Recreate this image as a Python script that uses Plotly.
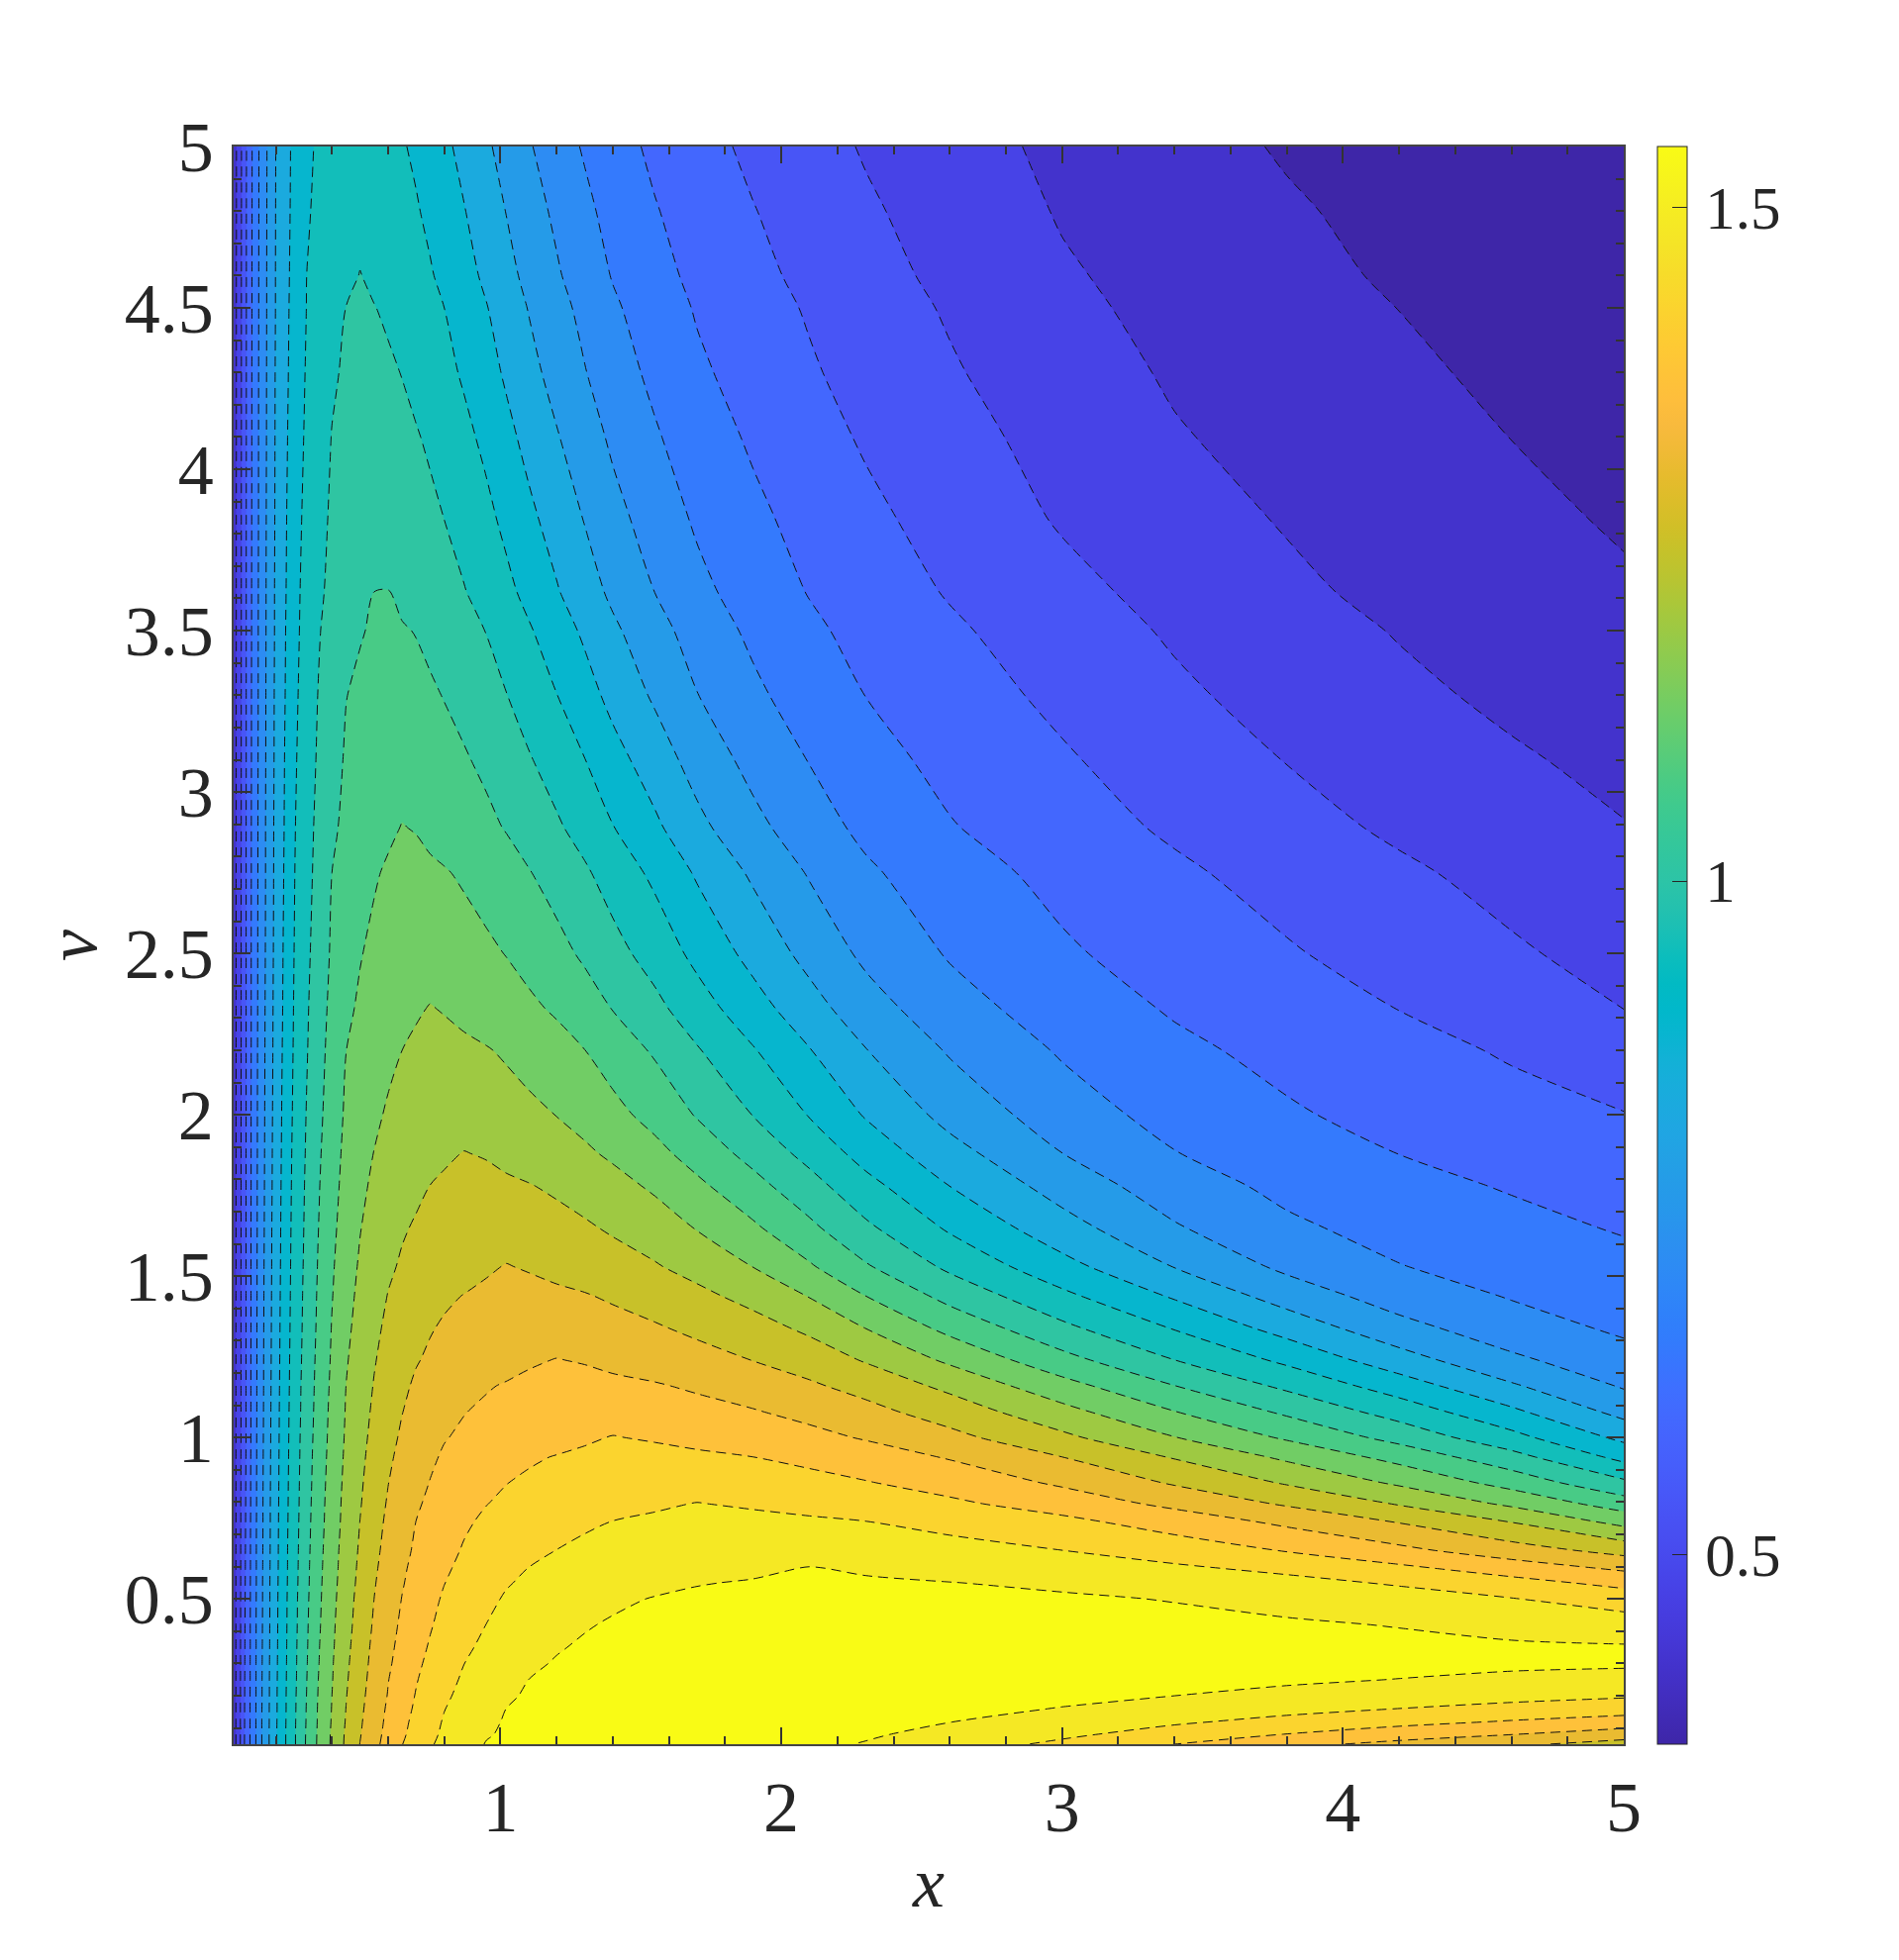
import numpy as np
import plotly.graph_objects as go

x_values = [.05, .06, .075, .09, .11, .13, .15, .18, .2, .23, .27, .31, .35, .4, .45, .5, .55, .6, .65, .7, .75, .8, .87, .95, 1.02, 1.1, 1.2, 1.3, 1.4, 1.55, 1.7, 1.9, 2.1, 2.3, 2.6, 3, 3.4, 3.8, 4.2, 4.6, 5]
v_values = [.05, .08, .12, .16, .2, .25, .3, .35, .42, .5, .55, .595, .65, .74, .795, .86, .94, 1.0, 1.08, 1.16, 1.24, 1.34, 1.44, 1.53, 1.65, 1.78, 1.88, 2.0, 2.2, 2.33, 2.5, 2.75, 2.89, 3.1, 3.3, 3.5, 3.62, 3.85, 4.1, 4.3, 4.5, 4.6, 4.8, 5]

# surface in thousandths, one row per v, estimated from the contour lines of the picture
z_milli = [
    [444, 479, 533, 591, 647, 701, 754, 819, 861, 915, 980, 1044, 1100, 1158, 1216, 1264, 1304, 1341, 1375, 1401, 1427, 1447, 1472, 1491, 1496, 1501, 1508, 1514, 1521, 1531, 1527, 1514, 1500, 1486, 1459, 1421, 1376, 1336, 1303, 1274, 1240],
    [444, 479, 532, 590, 647, 700, 754, 819, 861, 915, 980, 1043, 1099, 1157, 1214, 1260, 1300, 1336, 1368, 1396, 1420, 1442, 1466, 1486, 1494, 1499, 1505, 1512, 1518, 1526, 1529, 1520, 1509, 1495, 1474, 1443, 1408, 1374, 1346, 1320, 1290],
    [444, 479, 532, 589, 646, 700, 754, 818, 860, 914, 979, 1041, 1097, 1154, 1210, 1256, 1296, 1331, 1363, 1390, 1414, 1437, 1459, 1481, 1492, 1497, 1503, 1509, 1515, 1523, 1529, 1526, 1517, 1506, 1490, 1467, 1441, 1416, 1393, 1372, 1353],
    [444, 479, 532, 589, 646, 700, 753, 818, 859, 913, 978, 1040, 1096, 1152, 1207, 1252, 1292, 1327, 1357, 1384, 1408, 1431, 1453, 1475, 1489, 1495, 1500, 1506, 1512, 1519, 1527, 1529, 1523, 1514, 1503, 1487, 1469, 1450, 1432, 1415, 1401],
    [444, 479, 531, 588, 646, 699, 752, 817, 859, 913, 977, 1038, 1094, 1150, 1204, 1248, 1288, 1322, 1352, 1379, 1402, 1424, 1446, 1468, 1484, 1493, 1498, 1503, 1509, 1516, 1524, 1529, 1526, 1520, 1512, 1501, 1489, 1477, 1464, 1451, 1439],
    [444, 479, 531, 587, 645, 699, 752, 817, 858, 912, 975, 1036, 1092, 1147, 1200, 1244, 1283, 1318, 1346, 1373, 1395, 1416, 1439, 1459, 1477, 1489, 1495, 1500, 1505, 1512, 1520, 1527, 1527, 1523, 1518, 1511, 1504, 1496, 1488, 1479, 1470],
    [444, 479, 530, 586, 645, 699, 751, 816, 857, 911, 974, 1034, 1089, 1145, 1196, 1240, 1279, 1312, 1340, 1366, 1388, 1409, 1432, 1451, 1467, 1482, 1492, 1497, 1502, 1508, 1515, 1523, 1526, 1524, 1521, 1517, 1512, 1507, 1503, 1498, 1497],
    [444, 479, 530, 585, 644, 698, 750, 815, 856, 910, 973, 1032, 1087, 1142, 1192, 1236, 1275, 1307, 1335, 1359, 1381, 1401, 1424, 1443, 1458, 1473, 1486, 1494, 1498, 1504, 1510, 1517, 1522, 1521, 1518, 1514, 1509, 1505, 1501, 1496, 1494],
    [444, 479, 529, 584, 644, 698, 749, 814, 855, 909, 971, 1030, 1083, 1139, 1187, 1230, 1269, 1301, 1328, 1351, 1372, 1391, 1413, 1433, 1447, 1460, 1475, 1486, 1493, 1498, 1503, 1510, 1515, 1514, 1510, 1506, 1501, 1495, 1487, 1474, 1459],
    [444, 479, 529, 582, 643, 697, 748, 813, 854, 908, 970, 1027, 1080, 1135, 1182, 1225, 1263, 1294, 1321, 1343, 1363, 1382, 1402, 1422, 1437, 1448, 1460, 1472, 1482, 1491, 1496, 1500, 1504, 1503, 1500, 1495, 1487, 1474, 1458, 1435, 1406],
    [444, 479, 528, 581, 643, 696, 748, 813, 853, 907, 968, 1025, 1078, 1132, 1179, 1220, 1259, 1289, 1316, 1337, 1357, 1375, 1394, 1413, 1429, 1440, 1449, 1458, 1468, 1479, 1487, 1492, 1496, 1494, 1490, 1481, 1467, 1450, 1426, 1395, 1360],
    [444, 479, 528, 580, 642, 696, 747, 812, 852, 906, 967, 1024, 1076, 1130, 1176, 1217, 1255, 1285, 1312, 1333, 1351, 1369, 1387, 1405, 1421, 1433, 1440, 1446, 1453, 1461, 1470, 1481, 1491, 1484, 1472, 1460, 1442, 1419, 1388, 1350, 1310],
    [444, 479, 528, 579, 642, 696, 746, 811, 851, 906, 966, 1022, 1073, 1128, 1173, 1213, 1250, 1280, 1306, 1327, 1344, 1361, 1380, 1396, 1410, 1423, 1433, 1440, 1445, 1452, 1459, 1466, 1468, 1462, 1451, 1433, 1406, 1373, 1334, 1289, 1244],
    [444, 478, 527, 577, 641, 695, 745, 810, 850, 904, 964, 1019, 1069, 1123, 1168, 1207, 1243, 1273, 1298, 1320, 1336, 1351, 1369, 1384, 1394, 1405, 1417, 1427, 1433, 1440, 1445, 1446, 1441, 1433, 1416, 1389, 1351, 1307, 1259, 1204, 1131],
    [444, 478, 527, 576, 640, 694, 745, 810, 849, 903, 963, 1017, 1067, 1121, 1166, 1203, 1237, 1268, 1292, 1313, 1329, 1343, 1360, 1375, 1384, 1390, 1399, 1407, 1414, 1426, 1434, 1426, 1414, 1404, 1386, 1352, 1306, 1256, 1202, 1139, 1065],
    [444, 478, 526, 575, 640, 694, 744, 809, 848, 902, 962, 1015, 1064, 1118, 1163, 1199, 1232, 1262, 1285, 1305, 1321, 1334, 1349, 1365, 1375, 1383, 1389, 1396, 1403, 1410, 1410, 1402, 1392, 1379, 1355, 1311, 1257, 1201, 1141, 1072, 992],
    [444, 478, 526, 573, 639, 693, 743, 808, 847, 901, 960, 1013, 1061, 1114, 1159, 1194, 1226, 1254, 1277, 1295, 1312, 1325, 1337, 1349, 1360, 1370, 1378, 1384, 1389, 1391, 1386, 1376, 1363, 1346, 1315, 1263, 1202, 1139, 1074, 1000, 907],
    [444, 478, 525, 572, 638, 693, 742, 807, 846, 900, 959, 1011, 1058, 1111, 1156, 1190, 1221, 1248, 1270, 1287, 1303, 1317, 1327, 1335, 1343, 1351, 1360, 1370, 1378, 1371, 1360, 1349, 1335, 1315, 1279, 1219, 1152, 1086, 1018, 942, 854],
    [444, 478, 525, 572, 638, 692, 741, 806, 845, 899, 957, 1008, 1055, 1108, 1153, 1185, 1215, 1240, 1262, 1278, 1292, 1306, 1318, 1327, 1333, 1340, 1348, 1354, 1354, 1347, 1337, 1323, 1304, 1280, 1237, 1168, 1095, 1027, 957, 879, 793],
    [444, 478, 525, 572, 638, 692, 740, 805, 844, 897, 956, 1006, 1052, 1104, 1150, 1181, 1209, 1233, 1254, 1270, 1281, 1292, 1305, 1316, 1323, 1329, 1335, 1336, 1332, 1324, 1312, 1294, 1271, 1244, 1193, 1114, 1038, 969, 896, 818, 749],
    [444, 478, 525, 572, 638, 691, 740, 804, 842, 896, 954, 1003, 1049, 1100, 1145, 1176, 1203, 1225, 1244, 1260, 1270, 1277, 1286, 1295, 1303, 1314, 1321, 1316, 1306, 1295, 1282, 1262, 1238, 1202, 1140, 1056, 981, 912, 835, 766, 717],
    [444, 478, 525, 572, 637, 691, 739, 803, 841, 894, 952, 1000, 1045, 1096, 1138, 1169, 1196, 1216, 1233, 1249, 1260, 1268, 1275, 1283, 1290, 1296, 1296, 1290, 1281, 1268, 1252, 1228, 1195, 1149, 1077, 993, 920, 845, 773, 721, 689],
    [444, 478, 525, 572, 637, 690, 738, 802, 839, 893, 950, 998, 1042, 1091, 1132, 1162, 1187, 1208, 1222, 1234, 1246, 1256, 1264, 1272, 1277, 1278, 1273, 1266, 1256, 1240, 1220, 1188, 1147, 1093, 1018, 936, 860, 786, 727, 694, 672],
    [444, 477, 525, 572, 637, 690, 737, 801, 838, 891, 949, 995, 1039, 1087, 1126, 1156, 1179, 1199, 1212, 1220, 1228, 1236, 1245, 1257, 1265, 1259, 1248, 1239, 1228, 1211, 1187, 1149, 1100, 1043, 969, 886, 809, 742, 700, 675, 657],
    [444, 477, 524, 572, 637, 689, 735, 800, 837, 889, 947, 992, 1035, 1081, 1118, 1148, 1169, 1187, 1202, 1211, 1218, 1225, 1233, 1240, 1240, 1233, 1224, 1213, 1200, 1178, 1147, 1102, 1049, 991, 916, 833, 760, 708, 678, 657, 637],
    [444, 477, 524, 572, 636, 689, 734, 798, 835, 887, 945, 989, 1031, 1075, 1111, 1139, 1159, 1173, 1187, 1198, 1207, 1213, 1220, 1220, 1216, 1209, 1198, 1185, 1169, 1141, 1105, 1055, 1001, 942, 867, 787, 724, 684, 658, 637, 618],
    [444, 477, 524, 572, 636, 688, 733, 797, 834, 885, 943, 986, 1027, 1071, 1106, 1131, 1151, 1163, 1172, 1181, 1190, 1200, 1208, 1203, 1192, 1183, 1172, 1159, 1141, 1110, 1071, 1019, 963, 903, 831, 755, 700, 666, 641, 621, 604],
    [444, 477, 524, 571, 636, 688, 732, 796, 832, 883, 940, 983, 1022, 1065, 1101, 1123, 1142, 1155, 1163, 1171, 1179, 1185, 1186, 1179, 1171, 1162, 1149, 1132, 1110, 1075, 1033, 979, 921, 863, 793, 725, 678, 648, 624, 604, 587],
    [444, 476, 523, 571, 635, 687, 731, 793, 830, 879, 936, 977, 1015, 1057, 1093, 1110, 1126, 1140, 1150, 1158, 1164, 1165, 1161, 1153, 1144, 1131, 1114, 1094, 1068, 1030, 985, 928, 870, 813, 749, 692, 653, 626, 603, 579, 550],
    [444, 476, 523, 571, 635, 686, 730, 792, 829, 876, 934, 974, 1011, 1051, 1084, 1100, 1112, 1123, 1132, 1145, 1152, 1147, 1136, 1126, 1117, 1104, 1086, 1063, 1035, 995, 949, 890, 833, 778, 720, 671, 636, 609, 584, 557, 528],
    [444, 476, 523, 571, 635, 686, 728, 790, 827, 874, 931, 969, 1005, 1044, 1072, 1091, 1103, 1112, 1120, 1127, 1128, 1123, 1114, 1103, 1092, 1076, 1054, 1028, 999, 958, 909, 850, 793, 743, 693, 649, 617, 590, 563, 535, 511],
    [444, 476, 523, 571, 634, 685, 727, 788, 825, 870, 927, 963, 997, 1037, 1055, 1075, 1089, 1099, 1105, 1107, 1103, 1097, 1087, 1073, 1059, 1040, 1015, 988, 957, 912, 861, 802, 750, 707, 664, 626, 594, 565, 537, 512, 487],
    [444, 475, 522, 571, 634, 684, 727, 788, 824, 868, 924, 960, 993, 1030, 1046, 1060, 1072, 1086, 1095, 1091, 1080, 1073, 1062, 1049, 1034, 1014, 988, 960, 926, 878, 826, 770, 723, 685, 645, 609, 577, 547, 520, 495, 474],
    [444, 475, 522, 570, 633, 683, 726, 786, 822, 866, 920, 955, 986, 1019, 1042, 1052, 1062, 1071, 1074, 1069, 1061, 1054, 1042, 1026, 1008, 985, 957, 925, 888, 839, 789, 737, 696, 661, 626, 591, 557, 527, 501, 478, 459],
    [444, 475, 522, 570, 633, 682, 725, 785, 821, 863, 916, 950, 981, 1009, 1036, 1045, 1053, 1059, 1058, 1052, 1044, 1035, 1021, 1002, 982, 957, 925, 890, 851, 803, 756, 709, 671, 641, 609, 573, 538, 509, 483, 462, 445],
    [444, 474, 521, 570, 632, 682, 724, 784, 819, 861, 912, 946, 976, 999, 1019, 1034, 1042, 1046, 1041, 1035, 1025, 1014, 999, 979, 957, 930, 895, 858, 821, 775, 730, 687, 652, 624, 593, 556, 522, 493, 469, 449, 431],
    [444, 474, 521, 570, 632, 681, 724, 783, 819, 859, 910, 944, 972, 991, 1004, 1024, 1037, 1038, 1025, 1017, 1007, 998, 983, 962, 938, 909, 872, 836, 800, 754, 713, 672, 639, 613, 581, 544, 511, 482, 459, 440, 422],
    [444, 474, 521, 570, 631, 680, 723, 782, 817, 857, 905, 939, 965, 987, 999, 1010, 1019, 1017, 1009, 1000, 991, 980, 962, 937, 911, 880, 844, 808, 772, 729, 690, 653, 623, 597, 564, 523, 492, 468, 447, 427, 410],
    [444, 473, 520, 569, 630, 680, 722, 780, 816, 854, 899, 933, 956, 982, 992, 1002, 1006, 1001, 993, 984, 973, 958, 938, 911, 883, 851, 815, 780, 745, 704, 668, 634, 605, 579, 548, 508, 476, 455, 434, 415, 399],
    [444, 473, 520, 569, 630, 679, 722, 779, 815, 852, 894, 929, 949, 974, 987, 993, 994, 988, 979, 967, 954, 940, 917, 889, 860, 828, 792, 757, 724, 685, 651, 619, 591, 566, 534, 496, 466, 445, 424, 406, 390],
    [444, 473, 520, 569, 629, 678, 721, 778, 813, 850, 891, 925, 941, 961, 981, 985, 982, 973, 963, 951, 939, 924, 900, 870, 841, 809, 774, 739, 706, 670, 637, 607, 580, 555, 523, 484, 457, 436, 415, 398, 381],
    [444, 473, 520, 569, 629, 678, 721, 778, 813, 849, 889, 924, 936, 951, 968, 982, 971, 961, 950, 940, 928, 913, 887, 857, 828, 797, 761, 727, 695, 659, 629, 599, 572, 547, 516, 478, 453, 430, 409, 392, 377],
    [444, 472, 519, 569, 628, 677, 720, 777, 812, 847, 886, 919, 933, 947, 960, 964, 957, 948, 939, 928, 914, 896, 870, 839, 810, 779, 744, 711, 679, 645, 616, 587, 561, 536, 505, 468, 444, 421, 402, 385, 368],
    [444, 472, 519, 568, 627, 677, 719, 776, 811, 846, 884, 914, 930, 942, 953, 953, 945, 937, 928, 916, 897, 879, 852, 819, 792, 760, 725, 692, 665, 630, 604, 574, 549, 524, 494, 460, 434, 411, 394, 376, 359],
]

x_ticks = [1, 2, 3, 4, 5]
x_tick_labels = ['1', '2', '3', '4', '5']
v_ticks = [.5, 1, 1.5, 2, 2.5, 3, 3.5, 4, 4.5, 5]
v_tick_labels = ['0.5', '1', '1.5', '2', '2.5', '3', '3.5', '4', '4.5', '5']
bar_ticks = [.5, 1, 1.5]
bar_tick_labels = ['\u200a0.5', '\u200a1', '\u200a1.5']

z_min = .359
z_step = .0565

parula = [[.2422,.1504,.6603],[.2504,.1650,.7076],[.2578,.1818,.7511],[.2647,.1978,.7952],[.2706,.2147,.8364],[.2751,.2342,.8710],[.2783,.2559,.8991],[.2803,.2782,.9221],[.2813,.3006,.9414],[.2810,.3228,.9579],[.2795,.3447,.9717],[.2760,.3667,.9829],[.2699,.3892,.9906],[.2602,.4123,.9952],[.2440,.4358,.9988],[.2206,.4603,.9973],[.1963,.4847,.9892],[.1834,.5074,.9798],[.1786,.5289,.9682],[.1764,.5499,.9520],[.1687,.5703,.9359],[.1540,.5902,.9218],[.1460,.6091,.9079],[.1380,.6276,.8973],[.1248,.6459,.8883],[.1113,.6635,.8763],[.0952,.6798,.8598],[.0689,.6948,.8394],[.0297,.7082,.8163],[.0036,.7203,.7917],[.0067,.7312,.7660],[.0433,.7411,.7394],[.0964,.7500,.7120],[.1408,.7584,.6842],[.1717,.7670,.6554],[.1938,.7758,.6251],[.2161,.7843,.5923],[.2470,.7918,.5567],[.2906,.7973,.5188],[.3406,.8008,.4789],[.3909,.8029,.4354],[.4456,.8024,.3909],[.5044,.7993,.3480],[.5616,.7942,.3045],[.6174,.7876,.2612],[.6720,.7793,.2227],[.7242,.7698,.1910],[.7738,.7598,.1646],[.8203,.7498,.1535],[.8634,.7406,.1596],[.9035,.7330,.1774],[.9393,.7288,.2100],[.9728,.7298,.2394],[.9956,.7434,.2371],[.9970,.7659,.2199],[.9952,.7893,.2028],[.9892,.8136,.1885],[.9786,.8386,.1766],[.9676,.8639,.1643],[.9610,.8890,.1537],[.9597,.9135,.1423],[.9628,.9373,.1265],[.9691,.9606,.1064],[.9769,.9839,.0805]]
colorscale = [[i / 63, 'rgb(%d,%d,%d)' % tuple(round(c * 255) for c in rgb)] for i, rgb in enumerate(parula)]

ink = '#262626'
font = 'Liberation Serif'
z = np.array(z_milli) / 1000

fig = go.Figure()
fig.add_trace(go.Contour(
    x=x_values, y=v_values, z=z, colorscale=colorscale, autocontour=False, showscale=False,
    contours=dict(start=z_min + z_step, end=z_min + 20 * z_step + 1e-6, size=z_step, coloring='fill'),
    line=dict(color='#111111', width=1, dash='10px,6px', smoothing=0.8),
))
# only here for the continuous colorbar
fig.add_trace(go.Scatter(
    x=[None], y=[None], mode='markers', showlegend=False,
    marker=dict(colorscale=colorscale, cmin=z_min, cmax=z_min + 21 * z_step, color=[z_min], showscale=True,
                colorbar=dict(x=1.0242, xanchor='left', y=1, yanchor='top', lenmode='fraction', len=1,
                              thicknessmode='pixels', thickness=30, xpad=0, ypad=0,
                              tickvals=bar_ticks, ticktext=bar_tick_labels, ticks='inside', ticklen=15,
                              tickwidth=1, tickcolor=ink, outlinecolor=ink, outlinewidth=1,
                              tickfont=dict(family=font, size=61, color=ink))),
))
fig.update_layout(
    width=1918, height=1980, autosize=False, paper_bgcolor='white', plot_bgcolor='white',
    margin=dict(l=228, r=286, t=140, b=226), showlegend=False,
)
axis = dict(range=[.05, 5], ticks='inside', ticklen=17, tickwidth=1.5, tickcolor='#333333', showgrid=False,
            zeroline=False, showline=True, linecolor='#444444', linewidth=1.5, mirror='ticks',
            tickfont=dict(family=font, size=72, color=ink))
fig.update_xaxes(**axis, tickvals=x_ticks, ticktext=x_tick_labels,
                 minor=dict(ticks='inside', ticklen=8, dtick=.2, tick0=0, tickwidth=1.5, tickcolor='#333333'),
                 title=dict(text='<i>x</i>', font=dict(family=font, size=72, color=ink), standoff=10))
fig.update_yaxes(**axis, tickvals=v_ticks, ticktext=v_tick_labels, ticklabelstandoff=4,
                 minor=dict(ticks='inside', ticklen=8, dtick=.1, tick0=0, tickwidth=1.5, tickcolor='#333333'),
                 title=dict(text='<i>v</i>', font=dict(family=font, size=72, color=ink), standoff=5))
fig.write_html("out.html")
